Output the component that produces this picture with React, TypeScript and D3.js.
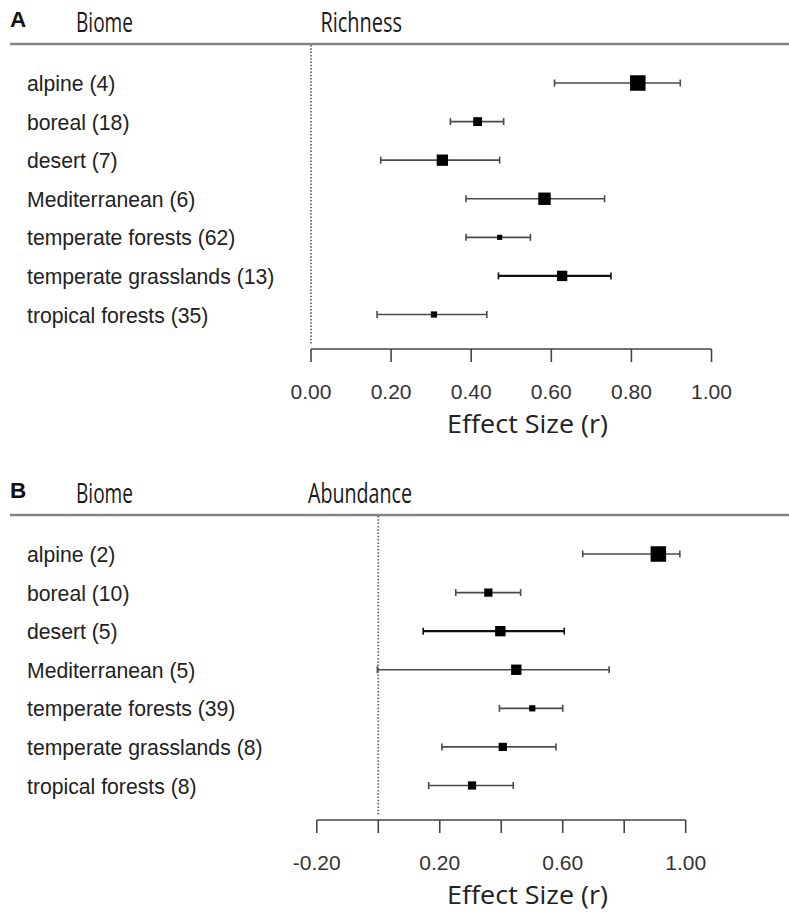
import React from "react";
import * as d3 from "d3";

const biomes = [
  "alpine",
  "boreal",
  "desert",
  "Mediterranean",
  "temperate forests",
  "temperate grasslands",
  "tropical forests",
];

// Panel A: Richness
const richnessN = [4, 18, 7, 6, 62, 13, 35];
const richnessEst = [0.816, 0.416, 0.328, 0.583, 0.471, 0.627, 0.307];
const richnessLo = [0.608, 0.348, 0.174, 0.387, 0.387, 0.468, 0.165];
const richnessHi = [0.922, 0.481, 0.471, 0.733, 0.548, 0.749, 0.439];
const richnessWeight = [1, 0.57, 0.73, 0.8, 0.33, 0.67, 0.4];
const richnessTicks = [0, 0.2, 0.4, 0.6, 0.8, 1.0];
const richnessTickLabels = ["0.00", "0.20", "0.40", "0.60", "0.80", "1.00"];

// Panel B: Abundance
const abundanceN = [2, 10, 5, 5, 39, 8, 8];
const abundanceEst = [0.911, 0.358, 0.397, 0.449, 0.501, 0.405, 0.305];
const abundanceLo = [0.665, 0.252, 0.146, -0.003, 0.394, 0.207, 0.164];
const abundanceHi = [0.981, 0.463, 0.605, 0.751, 0.6, 0.578, 0.439];
const abundanceWeight = [1, 0.53, 0.67, 0.67, 0.4, 0.53, 0.53];
const abundanceTicks = [-0.2, 0, 0.2, 0.4, 0.6, 0.8, 1.0];
const abundanceTickLabels = ["-0.20", "", "0.20", "", "0.60", "", "1.00"];

const W = 789;
const H = 915;

type PanelProps = {
  letter: string;
  title: string;
  titleX: number;
  titleW: number;
  top: number;
  domain: [number, number];
  range: [number, number];
  n: number[];
  est: number[];
  lo: number[];
  hi: number[];
  weight: number[];
  ticks: number[];
  tickLabels: string[];
  thickRow: number;
};

function Panel(p: PanelProps) {
  const x = d3.scaleLinear().domain(p.domain).range(p.range);
  const y = d3
    .scalePoint<string>()
    .domain(biomes)
    .range([p.top + 39, p.top + 270.5]);
  const size = d3.scaleLinear().domain([0, 1]).range([0, 15.5]);
  const lineY = p.top;
  const axisY = p.top + 305;
  const headerFont = "'Open Sans', 'DejaVu Sans', sans-serif";
  return (
    <g>
      <text
        x={10}
        y={p.top - 17}
        fontFamily="'Liberation Sans', Arial, sans-serif"
        fontWeight="bold"
        fontSize={22.5}
        fill="#111"
      >
        {p.letter}
      </text>
      <text
        x={76}
        y={p.top - 12}
        fontFamily={headerFont}
        fontSize={28}
        fill="#1a1a1a"
        textLength={57}
        lengthAdjust="spacingAndGlyphs"
      >
        Biome
      </text>
      <text
        x={p.titleX}
        y={p.top - 12}
        fontFamily={headerFont}
        fontSize={28}
        fill="#1a1a1a"
        textLength={p.titleW}
        lengthAdjust="spacingAndGlyphs"
      >
        {p.title}
      </text>
      <line x1={10} x2={W} y1={lineY} y2={lineY} stroke="#858585" strokeWidth={2.5} />
      <line
        x1={x(0)}
        x2={x(0)}
        y1={lineY + 1}
        y2={axisY - 4}
        stroke="#666"
        strokeWidth={1.8}
        strokeDasharray="1.5,1.8"
      />
      {biomes.map((b, i) => (
        <text
          key={"l" + b}
          x={27}
          y={(y(b) as number) + 8}
          fontFamily="'Liberation Sans', Arial, sans-serif"
          fontSize={21.2}
          fill="#222"
        >
          {`${b} (${p.n[i]})`}
        </text>
      ))}
      {biomes.map((b, i) => {
        const yy = y(b) as number;
        const thick = i === p.thickRow;
        const col = thick ? "#111" : "#4a4a4a";
        const sw = thick ? 2.2 : 1.6;
        const s = size(p.weight[i]);
        return (
          <g key={"m" + b}>
            <line x1={x(p.lo[i])} x2={x(p.hi[i])} y1={yy} y2={yy} stroke={col} strokeWidth={sw} />
            <line x1={x(p.lo[i])} x2={x(p.lo[i])} y1={yy - 3.5} y2={yy + 3.5} stroke={col} strokeWidth={1.6} />
            <line x1={x(p.hi[i])} x2={x(p.hi[i])} y1={yy - 3.5} y2={yy + 3.5} stroke={col} strokeWidth={1.6} />
            <rect x={x(p.est[i]) - s / 2} y={yy - s / 2} width={s} height={s} fill="#000" />
          </g>
        );
      })}
      <line
        x1={x(p.domain[0])}
        x2={x(p.domain[1])}
        y1={axisY}
        y2={axisY}
        stroke="#444"
        strokeWidth={1.6}
      />
      {p.ticks.map((t, i) => (
        <g key={"t" + i}>
          <line x1={x(t)} x2={x(t)} y1={axisY} y2={axisY + 13} stroke="#444" strokeWidth={1.6} />
          {p.tickLabels[i] !== "" && (
            <text
              x={x(t)}
              y={axisY + 50}
              textAnchor="middle"
              fontFamily="'Liberation Sans', Arial, sans-serif"
              fontSize={21}
              fill="#333"
            >
              {p.tickLabels[i]}
            </text>
          )}
        </g>
      ))}
      <text
        x={527.5}
        y={axisY + 84}
        textAnchor="middle"
        fontFamily={headerFont}
        fontSize={25}
        fill="#222"
        textLength={161}
        lengthAdjust="spacingAndGlyphs"
      >
        Effect Size (r)
      </text>
    </g>
  );
}

export default function App() {
  return (
    <svg
      width={W}
      height={H}
      viewBox={`0 0 ${W} ${H}`}
      style={{ position: "absolute", left: 0, top: 0, background: "#fff" }}
    >
      <rect x={0} y={0} width={W} height={H} fill="#fff" />
      <Panel
        letter="A"
        title="Richness"
        titleX={320.5}
        titleW={81.5}
        top={44}
        domain={[0, 1]}
        range={[311, 711.5]}
        n={richnessN}
        est={richnessEst}
        lo={richnessLo}
        hi={richnessHi}
        weight={richnessWeight}
        ticks={richnessTicks}
        tickLabels={richnessTickLabels}
        thickRow={5}
      />
      <Panel
        letter="B"
        title="Abundance"
        titleX={308}
        titleW={104}
        top={515}
        domain={[-0.2, 1]}
        range={[316.8, 685.7]}
        n={abundanceN}
        est={abundanceEst}
        lo={abundanceLo}
        hi={abundanceHi}
        weight={abundanceWeight}
        ticks={abundanceTicks}
        tickLabels={abundanceTickLabels}
        thickRow={2}
      />
    </svg>
  );
}
